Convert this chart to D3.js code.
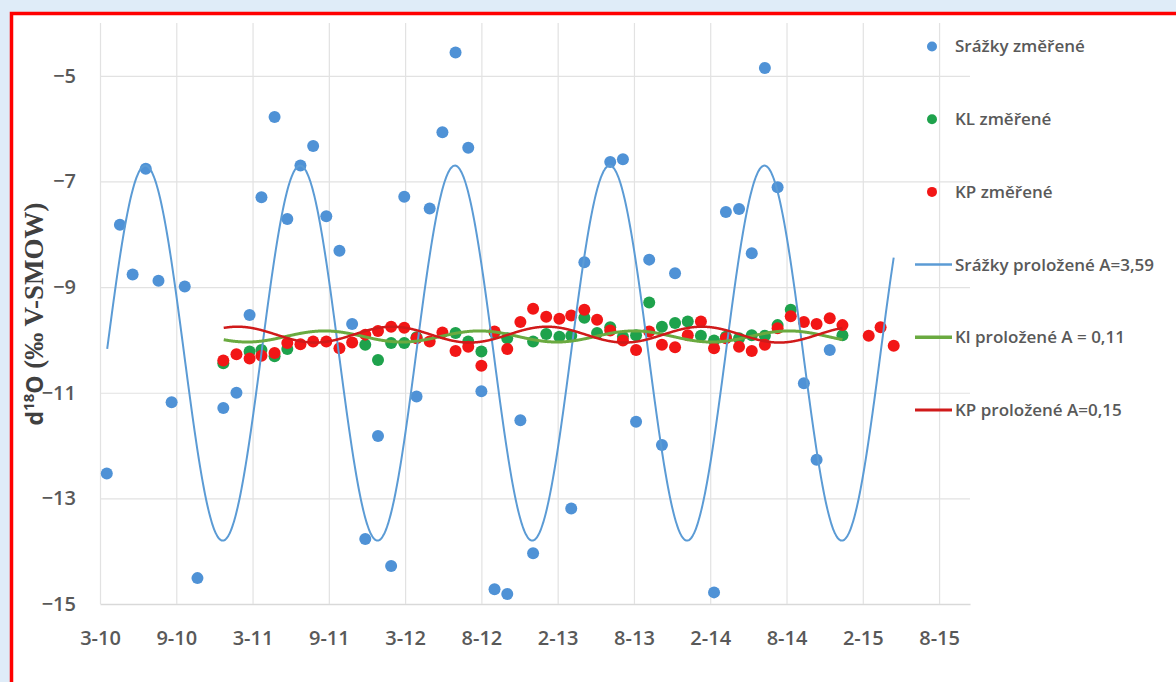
<!DOCTYPE html>
<html>
<head>
<meta charset="utf-8">
<script src="https://cdnjs.cloudflare.com/ajax/libs/d3/7.8.5/d3.min.js"></script>
<style>
  body { margin: 0; background: #dfecf8; overflow: hidden; }
  svg { display: block; }
</style>
</head>
<body>
<div id="wrapper"></div>
<script>

// data (monthly samples, placed near the end of each month)

const srazkyDates = [
  "2010-03-28","2010-04-28","2010-05-28","2010-06-28","2010-07-28","2010-08-28","2010-09-28","2010-10-28",
  "2010-12-28","2011-01-28","2011-02-28","2011-03-28","2011-04-28","2011-05-28","2011-06-28","2011-07-28",
  "2011-08-28","2011-09-28","2011-10-28","2011-11-28","2011-12-28","2012-01-28","2012-02-28","2012-03-28",
  "2012-04-28","2012-05-28","2012-06-28","2012-07-28","2012-08-28","2012-09-28","2012-10-28","2012-11-28",
  "2012-12-28","2013-03-28","2013-04-28","2013-06-28","2013-07-28","2013-08-28","2013-09-28","2013-10-28",
  "2013-11-28","2014-02-28","2014-03-28","2014-04-28","2014-05-28","2014-06-28","2014-07-28","2014-09-28",
  "2014-10-28","2014-11-28"
];
const srazkyValues = [
  -12.53, -7.82, -8.76, -6.76, -8.88, -11.18, -8.99, -14.51,
  -11.29, -11.00, -9.53, -7.30, -5.78, -7.71, -6.70, -6.33,
  -7.66, -8.31, -9.70, -13.77, -11.82, -14.28, -7.29, -11.07,
  -7.51, -6.07, -4.56, -6.36, -10.97, -14.72, -14.81, -11.52,
  -14.04, -13.19, -8.53, -6.63, -6.58, -11.55, -8.48, -11.99,
  -8.74, -14.78, -7.58, -7.52, -8.36, -4.85, -7.11, -10.82,
  -12.27, -10.19
];

const klDates = [
  "2010-12-28","2011-02-28","2011-03-28","2011-04-28","2011-05-28","2011-11-28","2011-12-28","2012-01-28",
  "2012-02-28","2012-03-28","2012-06-28","2012-07-28","2012-08-28","2012-09-28","2012-10-28","2012-12-28",
  "2013-01-28","2013-02-28","2013-03-28","2013-04-28","2013-05-28","2013-06-28","2013-07-28","2013-08-28",
  "2013-09-28","2013-10-28","2013-11-28","2013-12-28","2014-01-28","2014-02-28","2014-03-28","2014-04-28",
  "2014-05-28","2014-06-28","2014-07-28","2014-08-28","2014-12-28"
];
const klValues = [
  -10.44, -10.22, -10.19, -10.31, -10.17, -10.09, -10.38, -10.06,
  -10.06, -9.95, -9.87, -10.03, -10.22, -9.86, -9.97, -10.03,
  -9.89, -9.94, -9.92, -9.58, -9.87, -9.76, -9.94, -9.91,
  -9.29, -9.75, -9.68, -9.65, -9.92, -10.01, -9.94, -9.97,
  -9.91, -9.92, -9.72, -9.43, -9.91
];

const kpDates = [
  "2010-12-28","2011-01-28","2011-02-28","2011-03-28","2011-04-28","2011-05-28","2011-06-28","2011-07-28",
  "2011-08-28","2011-09-28","2011-10-28","2011-11-28","2011-12-28","2012-01-28","2012-02-28","2012-03-28",
  "2012-04-28","2012-05-28","2012-06-28","2012-07-28","2012-08-28","2012-09-28","2012-10-28","2012-11-28",
  "2012-12-28","2013-01-28","2013-02-28","2013-03-28","2013-04-28","2013-05-28","2013-06-28","2013-07-28",
  "2013-08-28","2013-09-28","2013-10-28","2013-11-28","2013-12-28","2014-01-28","2014-02-28","2014-03-28",
  "2014-04-28","2014-05-28","2014-06-28","2014-07-28","2014-08-28","2014-09-28","2014-10-28","2014-11-28",
  "2014-12-28","2015-02-28","2015-03-28","2015-04-28"
];
const kpValues = [
  -10.39, -10.27, -10.35, -10.30, -10.25, -10.06, -10.08, -10.03,
  -10.03, -10.16, -10.05, -9.90, -9.83, -9.75, -9.77, -9.97,
  -10.03, -9.86, -10.21, -10.13, -10.49, -9.84, -10.17, -9.66,
  -9.41, -9.56, -9.60, -9.54, -9.43, -9.62, -9.82, -10.01,
  -10.19, -9.84, -10.09, -10.14, -9.91, -9.65, -10.16, -9.97,
  -10.13, -10.21, -10.09, -9.78, -9.55, -9.66, -9.70, -9.59,
  -9.72, -9.92, -9.76, -10.11
];

// fitted sinusoids (one year period): mean, amplitude, date of the maximum, span
const fitNames = ["Srážky proložené A=3,59", "Kl proložené A = 0,11", "KP proložené A=0,15"];
const fitMeans = [-10.25, -9.935, -9.9];
const fitAmps = [3.55, 0.105, 0.15];
const fitPeaks = ["2010-06-27", "2011-08-24", "2013-01-30"];
const fitStarts = ["2010-03-28", "2010-12-28", "2010-12-28"];
const fitEnds = ["2015-04-28", "2014-12-28", "2014-12-28"];

const pointNames = ["Srážky změřené", "KL změřené", "KP změřené"];

// axis ticks (Excel date axis, 180 day steps)
const xTickDates = [
  "2010-03-12","2010-09-08","2011-03-07","2011-09-03","2012-03-01","2012-08-28",
  "2013-02-24","2013-08-23","2014-02-19","2014-08-18","2015-02-14","2015-08-13"
];
const xTickLabels = ["3-10","9-10","3-11","9-11","3-12","8-12","2-13","8-13","2-14","8-14","2-15","8-15"];
const xDomain = ["2010-03-12", "2015-10-25"];
const yTicks = [-15, -13, -11, -9, -7, -5];
const yDomain = [-15, -4];

// dimensions

const dms = {
  width: 1176,
  height: 682,
  margins: { top: 23, left: 100 },
  innerWidth: 870,
  innerHeight: 581
};

const parseDate = d3.timeParse("%Y-%m-%d");
const textColor = "#595959";
const font = "'Open Sans', sans-serif";
const colors = {
  blueDot: "#4f92d6", greenDot: "#1ea24c", redDot: "#f21616",
  blueLine: "#5b9bd5", greenLine: "#6aaa40", redLine: "#d01a1a"
};

// canvas

const svg = d3.select("#wrapper")
  .append("svg")
    .attr("width", dms.width)
    .attr("height", dms.height);

// red frame with white inside
svg.append("rect")
    .attr("x", 11.5)
    .attr("y", 13.5)
    .attr("width", 1300)
    .attr("height", 900)
    .attr("fill", "#ffffff")
    .attr("stroke", "#ff0000")
    .attr("stroke-width", 3.5);

const inner = svg.append("g")
    .attr("transform", `translate(${dms.margins.left},${dms.margins.top})`);

// scales

const xScale = d3.scaleTime()
  .domain(xDomain.map(parseDate))
  .range([0, dms.innerWidth]);

const yScale = d3.scaleLinear()
  .domain(yDomain)
  .range([dms.innerHeight, 0]);

// gridlines

const xGrid = inner.append("g")
    .attr("transform", `translate(0,${dms.innerHeight})`)
    .call(d3.axisBottom(xScale)
      .tickValues(xTickDates.map(parseDate))
      .tickSize(-dms.innerHeight)
      .tickSizeOuter(0)
      .tickFormat(""));
xGrid.selectAll("line").attr("stroke", "#e2e2e2").attr("stroke-width", 1.2);
xGrid.select(".domain").attr("stroke", "#d9d9d9").attr("stroke-width", 1.5);

const yGrid = inner.append("g")
    .call(d3.axisLeft(yScale)
      .tickValues(yTicks)
      .tickSize(-dms.innerWidth)
      .tickFormat(""));
yGrid.select(".domain").remove();
yGrid.selectAll(".tick")
    .filter(d => d === yDomain[0])
    .remove();
yGrid.selectAll("line").attr("stroke", "#e2e2e2").attr("stroke-width", 1.2);

// axis labels

const xAxis = inner.append("g")
    .attr("transform", `translate(0,${dms.innerHeight})`)
    .call(d3.axisBottom(xScale)
      .tickValues(xTickDates.map(parseDate))
      .tickFormat((d, i) => xTickLabels[i])
      .tickSize(0)
      .tickPadding(27));
xAxis.select(".domain").remove();
xAxis.selectAll("text")
    .attr("fill", textColor)
    .style("font-family", font)
    .style("font-size", "20px")
    .style("font-weight", 600);

const yAxis = inner.append("g")
    .call(d3.axisLeft(yScale)
      .tickValues(yTicks)
      .tickFormat(d3.format("d"))
      .tickSize(0)
      .tickPadding(24));
yAxis.select(".domain").remove();
yAxis.selectAll("text")
    .attr("fill", textColor)
    .style("font-family", font)
    .style("font-size", "20px")
    .style("font-weight", 600);

// y axis title
const yTitle = svg.append("text")
    .attr("transform", "translate(43,314) rotate(-90)")
    .attr("text-anchor", "middle")
    .attr("fill", "#404040");
yTitle.append("tspan")
    .style("font-family", font).style("font-weight", 700).style("font-size", "23px")
    .text("d");
yTitle.append("tspan")
    .attr("dy", -9)
    .style("font-family", font).style("font-weight", 700).style("font-size", "15px")
    .text("18");
yTitle.append("tspan")
    .attr("dy", 9)
    .style("font-family", font).style("font-weight", 700).style("font-size", "23px")
    .text("O");
yTitle.append("tspan")
    .style("font-family", "'Liberation Serif', serif").style("font-weight", 700).style("font-size", "27px")
    .text(" (‰ V-SMOW)");

// points

const series = [
  { dates: srazkyDates, values: srazkyValues, color: colors.blueDot },
  { dates: klDates, values: klValues, color: colors.greenDot },
  { dates: kpDates, values: kpValues, color: colors.redDot }
];

series.forEach(s => {
  inner.append("g")
    .selectAll("circle")
    .data(s.dates.map((d, i) => ({ date: parseDate(d), value: s.values[i] })))
    .join("circle")
      .attr("cx", d => xScale(d.date))
      .attr("cy", d => yScale(d.value))
      .attr("r", 6)
      .attr("fill", s.color);
});

// fitted curves

const lineColors = [colors.blueLine, colors.greenLine, colors.redLine];
const lineWidths = [2, 3, 2.5];
const yearMs = 365.25 * 864e5;

const lineGenerator = d3.line()
  .x(d => xScale(d.date))
  .y(d => yScale(d.value))
  .curve(d3.curveMonotoneX);

fitNames.forEach((name, i) => {
  const start = parseDate(fitStarts[i]);
  const end = parseDate(fitEnds[i]);
  const peak = parseDate(fitPeaks[i]);
  const days = d3.timeDay.every(2).range(start, end).concat([end]);
  const curve = days.map(d => ({
    date: d,
    value: fitMeans[i] + fitAmps[i] * Math.cos(2 * Math.PI * (d - peak) / yearMs)
  }));
  inner.append("path")
      .attr("d", lineGenerator(curve))
      .attr("fill", "none")
      .attr("stroke", lineColors[i])
      .attr("stroke-width", lineWidths[i]);
});

// legend

const legendX = 932;
const legendTextX = 955;
const legendY = i => 46.5 + i * 72.7;

const legendNames = pointNames.concat(fitNames);
const legend = svg.append("g");

legendNames.forEach((name, i) => {
  if (i < 3) {
    legend.append("circle")
        .attr("cx", legendX)
        .attr("cy", legendY(i))
        .attr("r", 5)
        .attr("fill", series[i].color);
  } else {
    legend.append("line")
        .attr("x1", 915)
        .attr("x2", 952)
        .attr("y1", legendY(i))
        .attr("y2", legendY(i))
        .attr("stroke", lineColors[i - 3])
        .attr("stroke-width", lineWidths[i - 3] + 0.5);
  }
  legend.append("text")
      .attr("x", legendTextX)
      .attr("y", legendY(i))
      .attr("dy", "0.35em")
      .attr("fill", textColor)
      .style("font-family", font)
      .style("font-size", "17px")
      .style("font-weight", 600)
      .text(name);
});

</script>
</body>
</html>
